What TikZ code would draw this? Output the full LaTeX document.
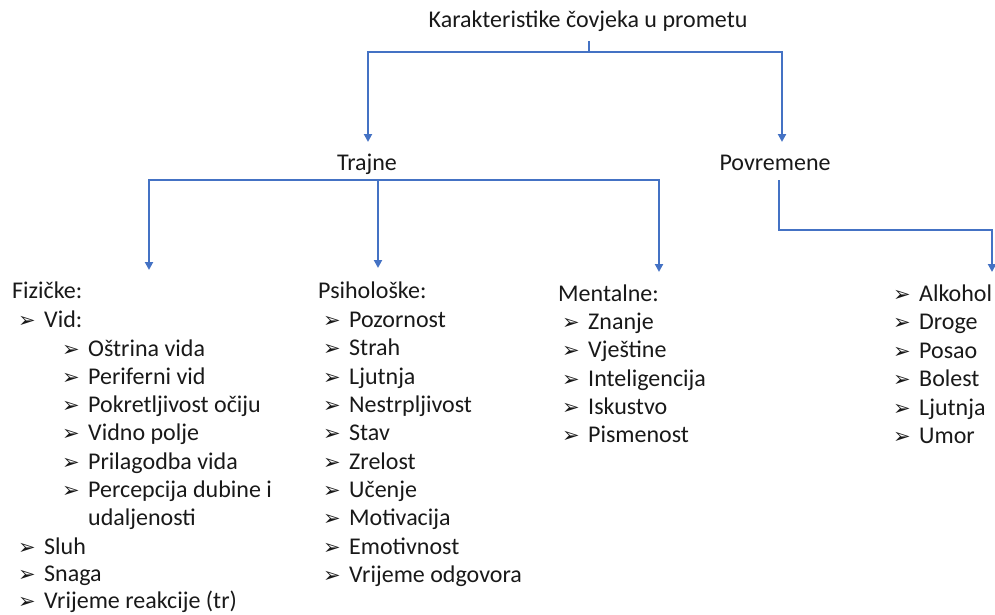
\documentclass[tikz,border=0pt]{standalone}
\usepackage{fontspec}
\setmainfont{Carlito}
\newfontfamily\dejavu{DejaVu Sans}
\usetikzlibrary{arrows.meta}
\definecolor{linkblue}{HTML}{4472C4}
\newcommand{\bul}{\makebox[26pt][l]{\raisebox{-0.5pt}{\dejavu\fontsize{21}{21}\selectfont ➢}}}
\begin{document}
\begin{tikzpicture}[x=1pt,y=-1pt,
  every node/.style={inner sep=0pt, font=\fontsize{24}{28}\selectfont, text=black!90},
  conn/.style={draw=linkblue, line width=2.6pt},
  arr/.style={conn, -{Triangle[length=8pt,width=8pt]}},
  lbl/.style={anchor=base west},
  mid/.style={anchor=base}]
\useasboundingbox (0,0) rectangle (995,615);
% headers
\node[mid] (title) at (588,28) {Karakteristike čovjeka u prometu};
\node[mid] (trajne) at (367,170) {Trajne};
\node[mid] (povr) at (775,170) {Povremene};
\node[lbl] (fiz) at (12,298) {Fizičke:};
\node[lbl] (psi) at (318,298) {Psihološke:};
\node[lbl] (men) at (558,301) {Mentalne:};
% Fizicke list
\node[lbl] (f1) at (18,327) {\bul Vid:};
\node[lbl] (f2) at (62,356) {\bul Oštrina vida};
\node[lbl] (f3) at (62,384) {\bul Periferni vid};
\node[lbl] (f4) at (62,412) {\bul Pokretljivost očiju};
\node[lbl] (f5) at (62,440) {\bul Vidno polje};
\node[lbl] (f6) at (62,469) {\bul Prilagodba vida};
\node[lbl] (f7) at (62,497) {\bul Percepcija dubine i};
\node[lbl] (f7b) at (88,525) {udaljenosti};
\node[lbl] (f8) at (18,554) {\bul Sluh};
\node[lbl] (f9) at (18,581) {\bul Snaga};
\node[lbl] (f10) at (18,608) {\bul Vrijeme reakcije (tr)};
% Psiholoske list
\node[lbl] (p1) at (323,327) {\bul Pozornost};
\node[lbl] (p2) at (323,355) {\bul Strah};
\node[lbl] (p3) at (323,384) {\bul Ljutnja};
\node[lbl] (p4) at (323,412) {\bul Nestrpljivost};
\node[lbl] (p5) at (323,440) {\bul Stav};
\node[lbl] (p6) at (323,469) {\bul Zrelost};
\node[lbl] (p7) at (323,497) {\bul Učenje};
\node[lbl] (p8) at (323,525) {\bul Motivacija};
\node[lbl] (p9) at (323,554) {\bul Emotivnost};
\node[lbl] (p10) at (323,582) {\bul Vrijeme odgovora};
% Mentalne list
\node[lbl] (m1) at (562,329) {\bul Znanje};
\node[lbl] (m2) at (562,357) {\bul Vještine};
\node[lbl] (m3) at (562,386) {\bul Inteligencija};
\node[lbl] (m4) at (562,414) {\bul Iskustvo};
\node[lbl] (m5) at (562,442) {\bul Pismenost};
% Povremene list
\node[lbl] (r1) at (893,301) {\bul Alkohol};
\node[lbl] (r2) at (893,329) {\bul Droge};
\node[lbl] (r3) at (893,358) {\bul Posao};
\node[lbl] (r4) at (893,386) {\bul Bolest};
\node[lbl] (r5) at (893,415) {\bul Ljutnja};
\node[lbl] (r6) at (893,443) {\bul Umor};
% junction coordinates
\coordinate (tTop) at (589,41);
\coordinate (tJ) at (589,52);
\coordinate (trIn) at (368,142);
\coordinate (poIn) at (782,142);
\coordinate (trJ) at (378,180);
\coordinate (fizIn) at (149,270);
\coordinate (psiIn) at (378,268);
\coordinate (menIn) at (659,272);
\coordinate (poTop) at (779,180);
\coordinate (poK) at (779,230);
\coordinate (alkIn) at (992,272);
% connectors
\draw[conn] (tTop) -- (tJ);
\draw[arr] (tJ) -| (trIn);
\draw[arr] (tJ) -| (poIn);
\draw[arr] (trJ) -| (fizIn);
\draw[arr] (trJ) -- (psiIn);
\draw[arr] (trJ) -| (menIn);
\draw[arr] (poTop) -- (poK) -| (alkIn);
\end{tikzpicture}
\end{document}
